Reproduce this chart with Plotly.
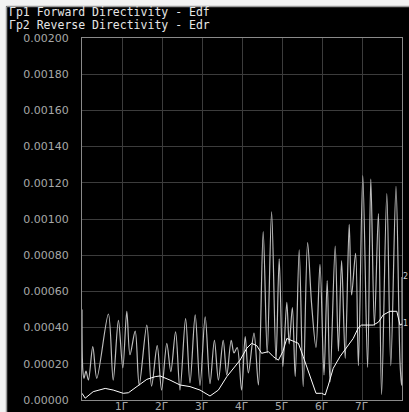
import plotly.graph_objects as go

# Frequency axis in GHz
freq_edf = [0.0, 0.08, 0.28, 0.58, 0.78, 1.03, 1.16, 1.37, 1.62, 1.83, 1.95, 2.20, 2.45,
            2.70, 2.95, 3.20, 3.41, 3.62, 3.83, 3.95, 4.12, 4.24, 4.37, 4.49, 4.66, 4.78,
            4.91, 5.02, 5.12, 5.24, 5.41, 5.53, 5.62, 5.74, 5.85, 5.99, 6.08, 6.16, 6.28,
            6.45, 6.62, 6.78, 6.91, 6.99, 7.12, 7.28, 7.41, 7.53, 7.70, 7.87, 7.95, 8.0]
edf = [0.000037, 0.000010, 0.000046, 0.000064, 0.000055, 0.000037, 0.000040, 0.000074,
       0.000114, 0.000129, 0.000133, 0.000110, 0.000083, 0.000074, 0.000055, 0.000022,
       0.000055, 0.000129, 0.000184, 0.000220, 0.000286, 0.000313, 0.000300, 0.000258,
       0.000267, 0.000240, 0.000220, 0.000267, 0.000340, 0.000330, 0.000313, 0.000240,
       0.000184, 0.000110, 0.000037, 0.000037, 0.000028, 0.000083, 0.000175, 0.000240,
       0.000295, 0.000340, 0.000400, 0.000414, 0.000414, 0.000414, 0.000430, 0.000470,
       0.000490, 0.000490, 0.000414, 0.000420]

freq_edr = [0.0, 0.02, 0.05, 0.10, 0.16, 0.27, 0.37, 0.66, 0.78, 0.91, 1.02, 1.12, 1.20,
            1.33, 1.43, 1.62, 1.74, 1.88, 1.99, 2.12, 2.22, 2.34, 2.45, 2.59, 2.70, 2.83,
            2.95, 3.08, 3.20, 3.31, 3.41, 3.53, 3.62, 3.73, 3.80, 3.88, 3.99, 4.08, 4.16,
            4.30, 4.41, 4.53, 4.63, 4.74, 4.85, 4.93, 5.02, 5.12, 5.18, 5.26, 5.33, 5.43,
            5.53, 5.64, 5.74, 5.85, 5.95, 6.05, 6.13, 6.20, 6.33, 6.41, 6.49, 6.58, 6.68,
            6.74, 6.84, 6.91, 7.02, 7.14, 7.22, 7.31, 7.41, 7.49, 7.62, 7.72, 7.85, 7.95,
            7.99, 8.0]
edr = [0.000500, 0.000166, 0.000120, 0.000160, 0.000110, 0.000295, 0.000120, 0.000475,
       0.000110, 0.000440, 0.000177, 0.000490, 0.000250, 0.000380, 0.000083, 0.000414,
       0.000077, 0.000300, 0.000055, 0.000313, 0.000157, 0.000377, 0.000055, 0.000450,
       0.000094, 0.000470, 0.000080, 0.000460, 0.000090, 0.000330, 0.000110, 0.000330,
       0.000138, 0.000330, 0.000260, 0.000290, 0.000055, 0.000350, 0.000150, 0.000370,
       0.000083, 0.000930, 0.000260, 0.001040, 0.000220, 0.000780, 0.000184, 0.000540,
       0.000310, 0.000510, 0.000130, 0.000830, 0.000074, 0.000870, 0.000530, 0.000290,
       0.000750, 0.000138, 0.000660, 0.000100, 0.000850, 0.000270, 0.000770, 0.000230,
       0.000970, 0.000580, 0.000810, 0.000190, 0.001240, 0.000180, 0.001220, 0.000410,
       0.001030, 0.000030, 0.001140, 0.000190, 0.001180, 0.000210, 0.000080, 0.000680]

y_ticks = [i * 0.0002 for i in range(11)]
x_ticks = [1, 2, 3, 4, 5, 6, 7]
x_tick_text = ["1Г", "2Г", "3Г", "4Г", "5Г", "6Г", "7Г"]
titles = ["Гр1 Forward Directivity - Edf", "Гр2 Reverse Directivity - Edr"]

W, H = 409, 412
L, R, T, B = 82, 7, 38, 12
PW, PH = W - L - R, H - T - B


def px(x):
    return (x - L) / PW


def py(y):
    return (H - B - y) / PH


fig = go.Figure()
fig.add_trace(go.Scatter(x=freq_edr, y=edr, mode="lines",
                         line=dict(color="#bdbdbd", width=1.2, shape="spline", smoothing=0.9),
                         showlegend=False))
fig.add_trace(go.Scatter(x=freq_edf, y=edf, mode="lines",
                         line=dict(color="#ffffff", width=1.0),
                         showlegend=False))

shapes = [
    # light margin strips at top and left of the screen
    dict(type="rect", xref="paper", yref="paper", x0=px(0), x1=px(W), y0=py(6), y1=py(0),
         fillcolor="#f2f2f2", line=dict(width=0), layer="above"),
    dict(type="rect", xref="paper", yref="paper", x0=px(0), x1=px(6), y0=py(H), y1=py(0),
         fillcolor="#f2f2f2", line=dict(width=0), layer="above"),
    dict(type="line", xref="paper", yref="paper", x0=px(6.5), x1=px(W), y0=py(6.5), y1=py(6.5),
         line=dict(color="#9a9a9a", width=1.5), layer="above"),
    dict(type="line", xref="paper", yref="paper", x0=px(6.5), x1=px(6.5), y0=py(H), y1=py(6.5),
         line=dict(color="#9a9a9a", width=1.5), layer="above"),
]

annotations = []
for i, t in enumerate(titles):
    annotations.append(dict(text=t, xref="paper", yref="paper", x=px(7), y=py(12.5 + 12.5 * i),
                            xanchor="left", yanchor="middle", showarrow=False,
                            font=dict(family="DejaVu Sans Mono", size=11.5, color="#e6e6e6")))

# frequency labels sit tight under the grid, inside the bottom strip
for xv, xt in zip(x_ticks, x_tick_text):
    annotations.append(dict(text=xt, xref="x", yref="paper", x=xv, y=py(405.5),
                            xanchor="center", yanchor="middle", xshift=-1, showarrow=False,
                            borderpad=0,
                            font=dict(family="DejaVu Sans", size=10.5, color="#a8a8a8")))

# trace reference markers at the right edge
for label, yv in (("1", edf[-1]), ("2", edr[-1])):
    annotations.append(dict(text=label, xref="paper", yref="y", x=1.0, y=yv,
                            xanchor="left", yanchor="middle", xshift=0, showarrow=False,
                            borderpad=0,
                            font=dict(family="DejaVu Sans", size=8, color="#cfcfcf")))

fig.update_layout(
    width=W, height=H,
    margin=dict(l=L, r=R, t=T, b=B, autoexpand=False),
    paper_bgcolor="#000000",
    plot_bgcolor="#000000",
    shapes=shapes,
    annotations=annotations,
    xaxis=dict(range=[0, 8], tickvals=x_ticks, showticklabels=False, automargin=False,
               showgrid=True, gridcolor="#3c3c3c", gridwidth=1,
               showline=True, linecolor="#8a8a8a", linewidth=1, mirror=True,
               zeroline=False, ticks=""),
    yaxis=dict(range=[0, 0.002], tickvals=y_ticks, tickformat=".5f", automargin=False,
               showgrid=True, gridcolor="#3c3c3c", gridwidth=1,
               showline=True, linecolor="#8a8a8a", linewidth=1, mirror=True,
               zeroline=False, ticks="", ticklabelstandoff=10,
               tickfont=dict(family="DejaVu Sans", size=11, color="#a8a8a8")),
)

fig.write_html("out.html")
